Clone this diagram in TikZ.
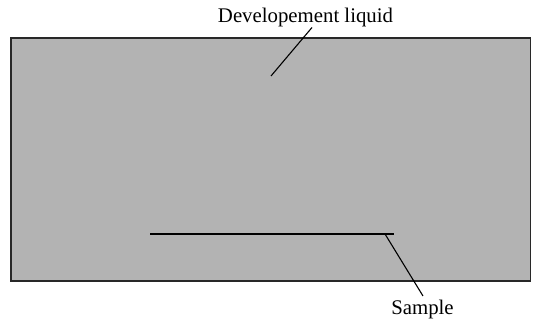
\documentclass[tikz,border=0pt]{standalone}
\usepackage{fontspec}
\setmainfont{Liberation Serif}
\definecolor{liquid}{RGB}{179,179,179}
\definecolor{edge}{RGB}{40,40,40}
\begin{document}
\begin{tikzpicture}[x=1pt,y=-1pt,
  lbl/.style={font=\fontsize{20.8}{24}\selectfont, inner sep=0pt, anchor=base},
  leader/.style={line width=1.1pt, draw=black},
  tank/.style={fill=liquid, draw=edge, line width=1.6pt},
  samplebar/.style={line width=2.6pt, draw=black}]
\useasboundingbox (0,0) rectangle (539,320);
\draw[tank] (10.8,38.2) rectangle (530.5,281.2);
\node[lbl] (dl) at (305.5,22.7) {Developement liquid};
\node[lbl] (sl) at (422.5,315) {Sample};
\coordinate (s1) at (150,234);
\coordinate (s2) at (394,234);
\draw[samplebar] (s1) -- (s2);
\coordinate (dltop) at (312,27.5);
\coordinate (dlend) at (271,76);
\draw[leader] (dltop) -- (dlend);
\coordinate (sptop) at (385,234);
\coordinate (spend) at (423,296);
\draw[leader] (sptop) -- (spend);
\end{tikzpicture}
\end{document}
